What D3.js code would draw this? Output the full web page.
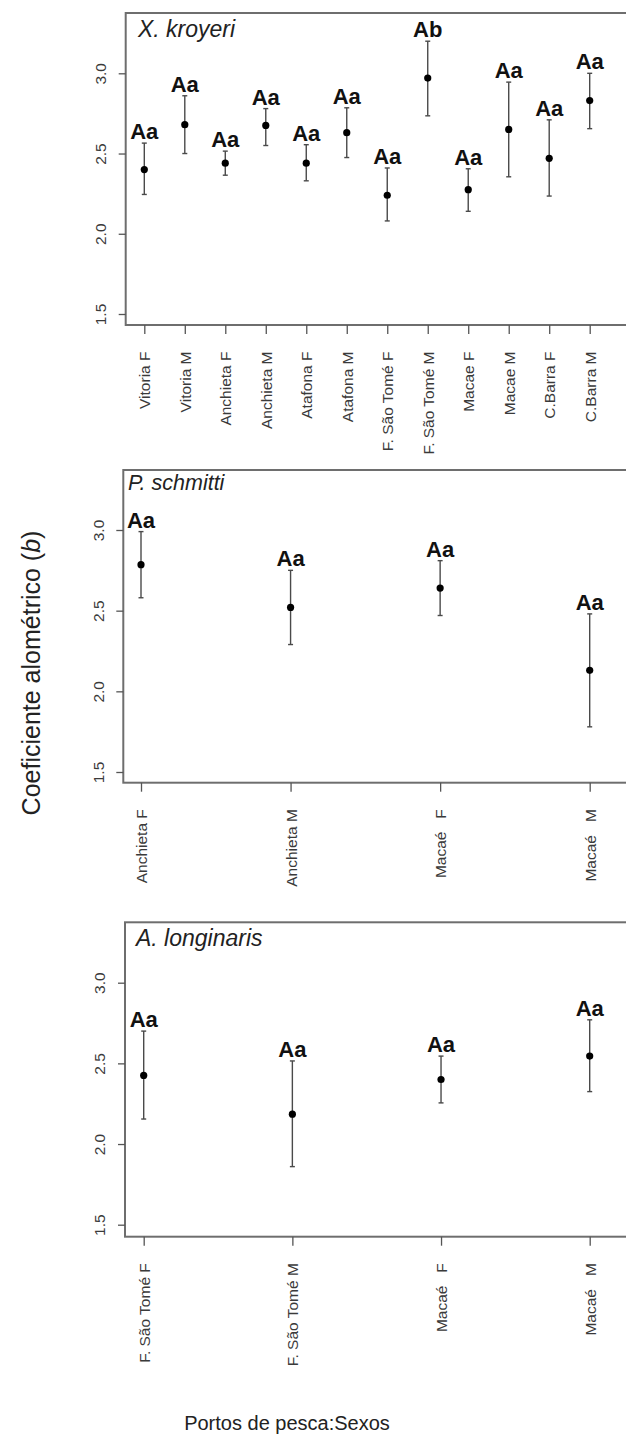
<!DOCTYPE html>
<html>
<head>
<meta charset="utf-8">
<script src="https://cdn.jsdelivr.net/npm/d3@7"></script>
<style>
  html, body { margin: 0; padding: 0; background: #fff; }
  svg { display: block; font-family: "Liberation Sans", Arial, sans-serif; }
  text { white-space: pre; }
</style>
</head>
<body>
<svg id="chart" width="626" height="1445"></svg>
<script>
// Allometric coefficient b (point) with confidence limits, by port and sex.

// X. kroyeri
const krCategories = ["Vitoria F", "Vitoria M", "Anchieta F", "Anchieta M", "Atafona F", "Atafona M",
  "F. São Tomé F", "F. São Tomé M", "Macae F", "Macae M", "C.Barra F", "C.Barra M"];
const krB     = [2.40, 2.68, 2.44, 2.675, 2.44, 2.63, 2.24, 2.97, 2.275, 2.65, 2.47, 2.83];
const krLower = [2.245, 2.50, 2.365, 2.55, 2.33, 2.475, 2.08, 2.735, 2.14, 2.355, 2.235, 2.655];
const krUpper = [2.565, 2.86, 2.515, 2.78, 2.555, 2.785, 2.41, 3.20, 2.405, 2.945, 2.71, 3.00];
const krLetters = ["Aa", "Aa", "Aa", "Aa", "Aa", "Aa", "Aa", "Ab", "Aa", "Aa", "Aa", "Aa"];

// P. schmitti
const psCategories = ["Anchieta F", "Anchieta M", "Macaé   F", "Macaé   M"];
const psB     = [2.785, 2.52, 2.64, 2.13];
const psLower = [2.58, 2.29, 2.47, 1.78];
const psUpper = [2.99, 2.75, 2.81, 2.48];
const psLetters = ["Aa", "Aa", "Aa", "Aa"];

// A. longinaris
const alCategories = ["F. São Tomé F", "F. São Tomé M", "Macaé   F", "Macaé   M"];
const alB     = [2.425, 2.185, 2.40, 2.545];
const alLower = [2.155, 1.86, 2.255, 2.325];
const alUpper = [2.70, 2.515, 2.545, 2.77];
const alLetters = ["Aa", "Aa", "Aa", "Aa"];

const yTicks = [1.5, 2.0, 2.5, 3.0];

const panels = [
  { title: "X. kroyeri", cats: krCategories, b: krB, lo: krLower, hi: krUpper, letters: krLetters,
    left: 125.7, top: 13, bottom: 325, xFirst: 144.3, xLast: 589.7, yLow: 314, yHigh: 73.3,
    titleX: 138, titleY: 37, titleSize: 23 },
  { title: "P. schmitti", cats: psCategories, b: psB, lo: psLower, hi: psUpper, letters: psLetters,
    left: 123.3, top: 470, bottom: 782.7, xFirst: 141, xLast: 589.7, yLow: 772, yHigh: 530,
    titleX: 128, titleY: 490, titleSize: 21.5 },
  { title: "A. longinaris", cats: alCategories, b: alB, lo: alLower, hi: alUpper, letters: alLetters,
    left: 125, top: 922.3, bottom: 1236.7, xFirst: 143.7, xLast: 589.7, yLow: 1224.7, yHigh: 982.7,
    titleX: 136, titleY: 946, titleSize: 23 }
];

const svg = d3.select("#chart");
const rightEdge = 660; // plot frame continues past the page edge

panels.forEach(p => {
  const x = d3.scalePoint().domain(p.cats).range([p.xFirst, p.xLast]);
  const y = d3.scaleLinear().domain([1.5, 3.0]).range([p.yLow, p.yHigh]);
  const g = svg.append("g");

  // frame
  g.append("rect")
    .attr("x", p.left).attr("y", p.top)
    .attr("width", rightEdge - p.left).attr("height", p.bottom - p.top)
    .attr("fill", "none").attr("stroke", "#6e6e6e").attr("stroke-width", 2);

  // y axis
  const ya = g.append("g").attr("transform", `translate(${p.left},0)`)
    .call(d3.axisLeft(y).tickValues(yTicks).tickFormat(d3.format(".1f")).tickSize(7).tickPadding(0));
  ya.select(".domain").remove();
  ya.selectAll(".tick line").attr("stroke", "#555").attr("stroke-width", 1.3);
  ya.selectAll(".tick text")
    .attr("x", null).attr("dy", null)
    .attr("text-anchor", "middle")
    .attr("transform", "translate(-19.7,0) rotate(-90)")
    .attr("fill", "#3a3a3a")
    .style("font-size", "15.5px");

  // x axis
  const xa = g.append("g").attr("transform", `translate(0,${p.bottom})`)
    .call(d3.axisBottom(x).tickSize(9).tickPadding(0));
  xa.select(".domain").remove();
  xa.selectAll(".tick line").attr("stroke", "#555").attr("stroke-width", 1.3);
  xa.selectAll(".tick text")
    .attr("y", null).attr("dy", null)
    .attr("text-anchor", "end")
    .attr("transform", "translate(5.5,26.5) rotate(-90)")
    .attr("fill", "#3a3a3a")
    .style("font-size", "15.5px");

  // panel title
  g.append("text")
    .attr("x", p.titleX).attr("y", p.titleY)
    .attr("font-style", "italic")
    .attr("font-size", p.titleSize)
    .attr("fill", "#222")
    .text(p.title);

  const rows = p.cats.map((c, i) => ({ c, b: p.b[i], lo: p.lo[i], hi: p.hi[i], letter: p.letters[i] }));

  // error bars
  const eb = g.append("g").attr("stroke", "#4a4a4a").attr("stroke-width", 1.4);
  eb.selectAll("line.stem").data(rows).join("line").attr("class", "stem")
    .attr("x1", d => x(d.c)).attr("x2", d => x(d.c))
    .attr("y1", d => y(d.lo)).attr("y2", d => y(d.hi));
  eb.selectAll("line.capHi").data(rows).join("line").attr("class", "capHi")
    .attr("x1", d => x(d.c) - 2.5).attr("x2", d => x(d.c) + 2.5)
    .attr("y1", d => y(d.hi)).attr("y2", d => y(d.hi));
  eb.selectAll("line.capLo").data(rows).join("line").attr("class", "capLo")
    .attr("x1", d => x(d.c) - 2.5).attr("x2", d => x(d.c) + 2.5)
    .attr("y1", d => y(d.lo)).attr("y2", d => y(d.lo));

  // estimates
  g.selectAll("circle").data(rows).join("circle")
    .attr("cx", d => x(d.c)).attr("cy", d => y(d.b)).attr("r", 3.6)
    .attr("fill", "#000");

  // significance letters
  g.selectAll("text.letter").data(rows).join("text").attr("class", "letter")
    .attr("x", d => x(d.c)).attr("y", d => y(d.hi) - 4)
    .attr("text-anchor", "middle")
    .attr("font-weight", "bold").attr("font-size", 22)
    .attr("fill", "#111")
    .text(d => d.letter);
});

// shared axis titles
const yTitle = svg.append("text")
  .attr("transform", "translate(40,673) rotate(-90)")
  .attr("text-anchor", "middle")
  .attr("font-size", 25)
  .attr("fill", "#222");
yTitle.append("tspan").text("Coeficiente alométrico (");
yTitle.append("tspan").attr("font-style", "italic").text("b");
yTitle.append("tspan").text(")");

svg.append("text")
  .attr("x", 287).attr("y", 1430)
  .attr("text-anchor", "middle")
  .attr("font-size", 20)
  .attr("fill", "#222")
  .text("Portos de pesca:Sexos");
</script>
</body>
</html>
